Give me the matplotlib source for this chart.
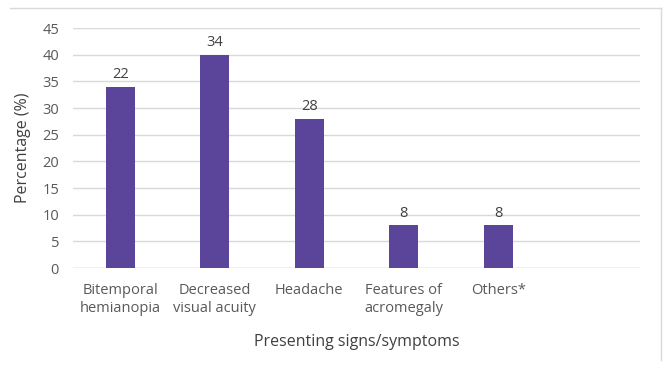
import matplotlib
matplotlib.use("Agg")
import matplotlib.pyplot as plt
from matplotlib.lines import Line2D

categories = ["Bitemporal\nhemianopia", "Decreased\nvisual acuity", "Headache",
              "Features of\nacromegaly", "Others*", ""]
percentages = [34, 40, 28, 8, 8, None]
counts = [22, 34, 28, 8, 8, None]
yticks = [0, 5, 10, 15, 20, 25, 30, 35, 40, 45]

plt.rcParams['font.family'] = ['Open Sans', 'DejaVu Sans']

bar_color = "#5b459b"
text_color = "#595959"

fig = plt.figure(figsize=(6.67, 3.67), dpi=100)
ax = fig.add_axes([73 / 667, 1 - 268 / 367, 567 / 667, 240 / 367])

xs = [i for i, v in enumerate(percentages) if v is not None]
vals = [percentages[i] for i in xs]
bars = ax.bar(xs, vals, width=0.31, color=bar_color, zorder=3)
for i, b in zip(xs, bars):
    ax.annotate(str(counts[i]), (b.get_x() + b.get_width() / 2, b.get_height()),
                xytext=(0, 3), textcoords="offset points", ha="center", va="bottom",
                fontsize=10.5, color="#404040")

ax.set_xlim(-0.5, len(categories) - 0.5)
ax.set_ylim(0, 45)
ax.set_yticks(yticks)
ax.set_xticks(range(len(categories)))
ax.set_xticklabels(categories, fontsize=10.5, color=text_color, linespacing=1.25)
ax.tick_params(axis="y", labelsize=10.5, labelcolor=text_color, length=0, pad=10)
ax.tick_params(axis="x", length=0, pad=11)
ax.grid(axis="y", color="#d9d9d9", linewidth=1, zorder=0)
for s in ax.spines.values():
    s.set_visible(False)
ax.axhline(0, color="#d9d9d9", linewidth=1, zorder=1)

ax.set_ylabel("Percentage (%)", fontsize=11.5, color="#404040", labelpad=8)
ax.set_xlabel("Presenting signs/symptoms", fontsize=11.5, color="#404040", labelpad=13)

# thin frame along top and right edges
fig.add_artist(Line2D([10 / 667, 661 / 667], [1 - 8 / 367, 1 - 8 / 367],
                      color="#d9d9d9", linewidth=1, transform=fig.transFigure))
fig.add_artist(Line2D([661 / 667, 661 / 667], [1 - 8 / 367, 1 - 360 / 367],
                      color="#d9d9d9", linewidth=1, transform=fig.transFigure))

fig.savefig("out.png", dpi=100, facecolor="white")
